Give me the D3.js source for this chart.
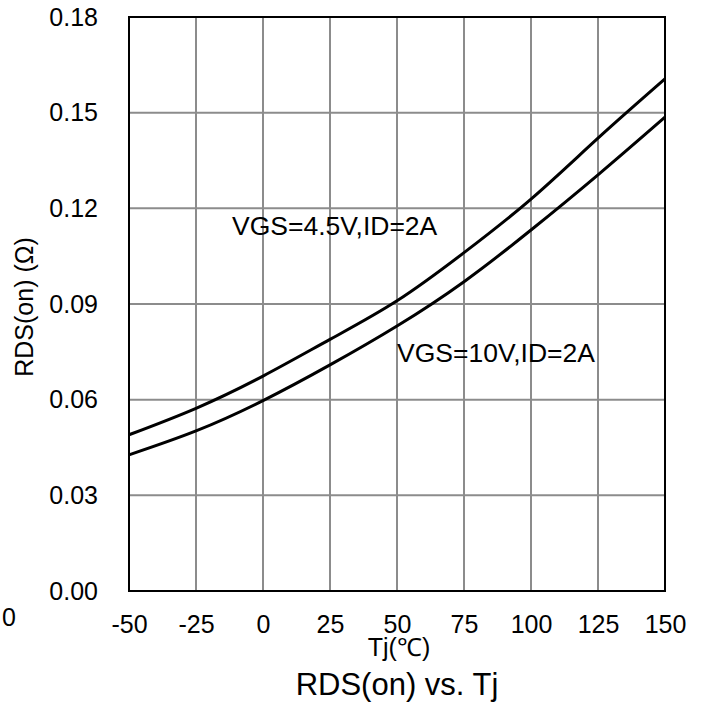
<!DOCTYPE html>
<html>
<head>
<meta charset="utf-8">
<script src="https://cdn.jsdelivr.net/npm/d3@7/dist/d3.min.js"></script>
<style>
  html, body { margin: 0; padding: 0; background: #fff; }
  svg { display: block; font-family: Arial, "Liberation Sans", sans-serif; }
</style>
</head>
<body>
<svg id="chart" width="703" height="711"></svg>
<script>
// Junction temperature (°C)
const tj = [-50, -25, 0, 25, 50, 75, 100, 125, 150];
// On-resistance (Ω) for each gate drive condition
const rdsVgs45 = [0.0490, 0.0573, 0.0674, 0.0789, 0.0910, 0.1061, 0.1229, 0.1420, 0.1606];
const rdsVgs10 = [0.0427, 0.0502, 0.0597, 0.0709, 0.0831, 0.0970, 0.1132, 0.1305, 0.1486];
const xTicks = [-50, -25, 0, 25, 50, 75, 100, 125, 150];
const yTicks = [0.00, 0.03, 0.06, 0.09, 0.12, 0.15, 0.18];
const seriesLabels = ["VGS=4.5V,ID=2A", "VGS=10V,ID=2A"];

const svg = d3.select("#chart");
const plotLeft = 129, plotRight = 665, plotTop = 17, plotBottom = 591;

const x = d3.scaleLinear().domain([-50, 150]).range([plotLeft, plotRight]);
const y = d3.scaleLinear().domain([0, 0.18]).range([plotBottom, plotTop]);

// grid
const grid = svg.append("g").attr("stroke", "#8c8c8c").attr("stroke-width", 2);
grid.selectAll("line.v").data(xTicks.slice(1, -1)).join("line").attr("class", "v")
  .attr("x1", d => x(d)).attr("x2", d => x(d)).attr("y1", plotTop).attr("y2", plotBottom);
grid.selectAll("line.h").data(yTicks.slice(1, -1)).join("line").attr("class", "h")
  .attr("x1", plotLeft).attr("x2", plotRight).attr("y1", d => y(d)).attr("y2", d => y(d));

// frame
svg.append("rect").attr("x", plotLeft).attr("y", plotTop)
  .attr("width", plotRight - plotLeft).attr("height", plotBottom - plotTop)
  .attr("fill", "none").attr("stroke", "#000").attr("stroke-width", 2);

// axes (labels only), plain hyphen for negatives
const xAxis = d3.axisBottom(x).tickValues(xTicks).tickSize(0).tickPadding(24).tickFormat(d => String(d));
const gx = svg.append("g").attr("transform", `translate(0,${plotBottom})`).call(xAxis);
gx.select(".domain").remove();
gx.attr("font-family", null).attr("font-size", null);
gx.selectAll("text").attr("font-size", 25).attr("fill", "#000");

const yAxis = d3.axisLeft(y).tickValues(yTicks).tickSize(0).tickPadding(31).tickFormat(d3.format(".2f"));
const gy = svg.append("g").attr("transform", `translate(${plotLeft},0)`).call(yAxis);
gy.select(".domain").remove();
gy.attr("font-family", null).attr("font-size", null);
gy.selectAll("text").attr("font-size", 25).attr("fill", "#000");

// curves
const line = d3.line().x((d, i) => x(tj[i])).y(d => y(d)).curve(d3.curveNatural);
[rdsVgs45, rdsVgs10].forEach(s => {
  svg.append("path").attr("d", line(s))
    .attr("fill", "none").attr("stroke", "#000").attr("stroke-width", 3);
});

// series annotations
svg.append("text").attr("x", 232).attr("y", 235).attr("font-size", 26.5).text(seriesLabels[0]);
svg.append("text").attr("x", 397).attr("y", 362).attr("font-size", 26.5).text(seriesLabels[1]);

// axis titles
svg.append("text").attr("x", 399).attr("y", 656).attr("text-anchor", "middle")
  .attr("font-size", 25).text("Tj(℃)");
svg.append("text").attr("transform", "translate(33,307) rotate(-90)")
  .attr("text-anchor", "middle").attr("font-size", 25).text("RDS(on) (Ω)");

// chart title
svg.append("text").attr("x", 397).attr("y", 695).attr("text-anchor", "middle")
  .attr("font-size", 31).text("RDS(on) vs. Tj");

// stray origin label at the left edge
svg.append("text").attr("x", 2).attr("y", 626).attr("font-size", 25).text("0");
</script>
</body>
</html>
